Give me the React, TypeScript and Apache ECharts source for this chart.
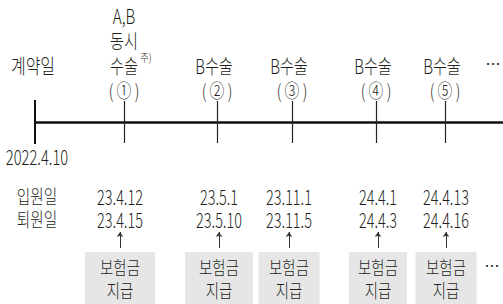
import React, { useEffect, useRef } from "react";
import * as echarts from "echarts";

// timeline event positions (along the drawn time line) and column centres
const contractLabel = "계약일";
const contractDate = "2022.4.10";
const eventPos = [124, 217, 292, 376, 445];
const colPos = [120, 219, 289, 378, 446];
const eventTitles = [["A,B", "동시", "수술"], ["B수술"], ["B수술"], ["B수술"], ["B수술"]];
const eventNums = ["①", "②", "③", "④", "⑤"];
const admitDates = ["23.4.12", "23.5.1", "23.11.1", "24.4.1", "24.4.13"];
const dischargeDates = ["23.4.15", "23.5.10", "23.11.5", "24.4.3", "24.4.16"];
const rowLabels = ["입원일", "퇴원일"];
const payLabel = ["보험금", "지급"];
const boxWidths = [70, 68, 61, 58, 61];

const TXT = "#231f20";
const KR = "'Noto Sans CJK KR', sans-serif";

type Item = { x: number; y: number; t: string };

function textGroup(items: Item[], size: number, sx: number, weight: number = 300) {
  return {
    type: "custom",
    silent: true,
    clip: false,
    data: items.map((d) => ({ name: d.t, value: [d.x, d.y] })),
    renderItem: (params: any, api: any) => {
      const p = api.coord([api.value(0), api.value(1)]);
      return {
        type: "text",
        x: p[0],
        y: p[1],
        scaleX: sx,
        style: {
          text: items[params.dataIndex].t,
          fontSize: size,
          fontFamily: KR,
          fontWeight: weight,
          fill: TXT,
          align: "center",
          verticalAlign: "middle",
        },
      };
    },
    z: 5,
  };
}

export default function App() {
  const ref = useRef<HTMLDivElement>(null);
  useEffect(() => {
    if (!ref.current) return;
    const chart = echarts.init(ref.current, undefined, { renderer: "svg" });

    const topItems: Item[] = [];
    eventTitles.forEach((lines, i) => {
      lines.forEach((t, j) => {
        topItems.push({ x: eventPos[i] - (t === "B수술" ? 3 : 0), y: 65 - (lines.length - 1 - j) * 25, t });
      });
    });
    const numItems = eventNums.map((n, i) => ({ x: eventPos[i], y: 90, t: "( " + n + " )" }));
    const dateItems: Item[] = [
      ...admitDates.map((t, i) => ({ x: colPos[i], y: 196, t })),
      ...dischargeDates.map((t, i) => ({ x: colPos[i], y: 219, t })),
    ];
    const rowItems = rowLabels.map((t, i) => ({ x: 37, y: 196 + i * 23, t }));
    const payItems: Item[] = [];
    colPos.forEach((x) => {
      payItems.push({ x, y: 267, t: payLabel[0] });
      payItems.push({ x, y: 290, t: payLabel[1] });
    });

    chart.setOption({
      animation: false,
      backgroundColor: "#ffffff",
      grid: { left: 0, right: 0, top: 0, bottom: 0 },
      xAxis: { type: "value", min: 0, max: 503, show: false },
      yAxis: { type: "value", min: 0, max: 304, inverse: true, show: false },
      series: [
        {
          type: "custom",
          silent: true,
          data: colPos.map((x, i) => [x, boxWidths[i]]),
          renderItem: (params: any, api: any) => {
            const x = api.value(0);
            const w = api.value(1);
            const p1 = api.coord([x - w / 2, 252]);
            const p2 = api.coord([x + w / 2, 304]);
            return {
              type: "rect",
              shape: { x: p1[0], y: p1[1], width: p2[0] - p1[0], height: p2[1] - p1[1] },
              style: { fill: "#e6e6e6" },
            };
          },
          z: 1,
        },
        {
          type: "lines",
          coordinateSystem: "cartesian2d",
          silent: true,
          lineStyle: { color: "#111", width: 2.5, opacity: 1 },
          data: [{ coords: [[35, 122], [503, 122]] }],
          z: 2,
        },
        {
          type: "lines",
          coordinateSystem: "cartesian2d",
          silent: true,
          lineStyle: { color: "#111", width: 2, opacity: 1 },
          data: [{ coords: [[35, 100], [35, 144]] }],
          z: 2,
        },
        {
          type: "lines",
          coordinateSystem: "cartesian2d",
          silent: true,
          lineStyle: { color: "#222", width: 1.2, opacity: 1 },
          data: eventPos.map((x) => ({ coords: [[x, 101], [x, 143]] })),
          z: 2,
        },
        {
          type: "lines",
          coordinateSystem: "cartesian2d",
          silent: true,
          symbol: ["none", "arrow"],
          symbolSize: 5,
          lineStyle: { color: "#333", width: 1, opacity: 1 },
          data: colPos.map((x) => ({ coords: [[x, 248], [x, 232]] })),
          z: 2,
        },
        textGroup(topItems, 20, 0.76),
        textGroup([{ x: 33, y: 65, t: contractLabel }], 20, 0.8),
        textGroup([{ x: 146, y: 57, t: "주)" }], 11, 0.85),
        textGroup(numItems, 19, 0.78),
        textGroup([{ x: 493, y: 63, t: "…" }, { x: 492, y: 265, t: "…" }], 15, 1, 400),
        textGroup([{ x: 37, y: 156, t: contractDate }], 21, 0.7),
        textGroup(dateItems, 21, 0.69),
        textGroup(rowItems, 19, 0.77),
        textGroup(payItems, 19, 0.76),
      ],
    });
    return () => chart.dispose();
  }, []);
  return (
    <div
      ref={ref}
      style={{ position: "fixed", left: 0, top: 0, width: 503, height: 304, background: "#fff" }}
    />
  );
}
